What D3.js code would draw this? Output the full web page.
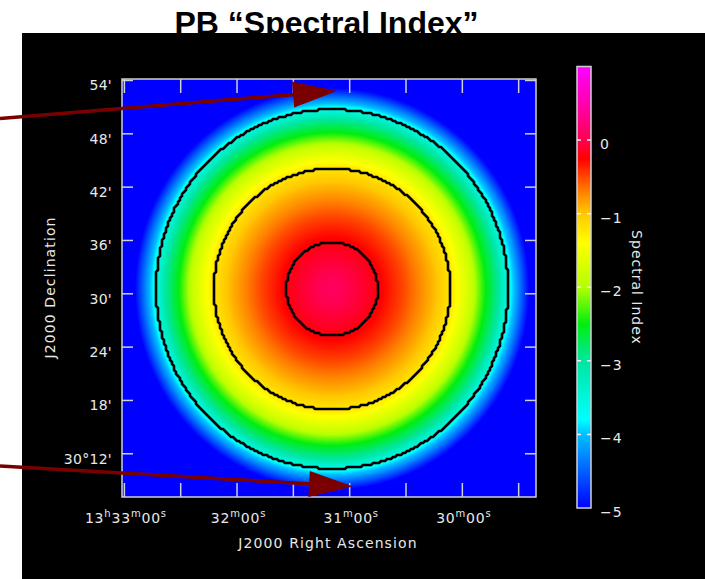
<!DOCTYPE html>
<html>
<head>
<meta charset="utf-8">
<script src="https://cdn.jsdelivr.net/npm/d3@7"></script>
<style>
  body { margin: 0; background: #fff; }
  svg { display: block; }
</style>
</head>
<body>
<div id="chart"></div>
<script>
// RA in seconds of time after 13h00m, Dec in arcmin after 30 deg
const raMajorTicks = [1980, 1920, 1860, 1800];
const raMinorTicks = [1950, 1890, 1830, 1770];
const raTickLabels = [
    [["13", 0], ["h", 1], ["33", 0], ["m", 1], ["00", 0], ["s", 1]],
    [["32", 0], ["m", 1], ["00", 0], ["s", 1]],
    [["31", 0], ["m", 1], ["00", 0], ["s", 1]],
    [["30", 0], ["m", 1], ["00", 0], ["s", 1]]
];
const decTicks = [54, 48, 42, 36, 30, 24, 18, 12];
const decTickLabels = ["54'", "48'", "42'", "36'", "30'", "24'", "18'", "30°12'"];

// radial profile of the PB spectral index (radius in arcmin)
const beamCenter = {ra: 1869.1, dec: 30.48};
const profileRadius = [0, 5.25, 8.2, 11.4, 13.55, 15.9, 17.6, 19.1, 20.2, 20.6, 21.4, 22.6];
const profileIndex = [0.1, -0.2, -0.5, -0.9, -1.2, -1.8, -2.5, -3.0, -3.6, -3.85, -4.3, -5.0];
const contourLevels = [-3.6, -1.2, -0.2];

// colour table
const colorStops = [-5, -4, -3.8, -3, -2.5, -2, -1.4, -1, -0.7, -0.25, 0, 0.5, 1];
const colorValues = ["#0000ff", "#00c0ff", "#00ffff", "#00e6a0", "#00ee10", "#b4ff00", "#ffff00",
                     "#ffc800", "#ff8000", "#ff0000", "#ff0050", "#ff00b0", "#ff00ff"];
const cbarTicks = [0, -1, -2, -3, -4, -5];

// the two annotation arrows
const arrows = [
    {x1: 0, y1: 118.5, x2: 337, y2: 91},
    {x1: 0, y1: 466, x2: 353, y2: 486.5}
];

class SpectralMap {
    constructor(_config) {
        this.config = {
            parentElement: _config.parentElement,
            containerWidth: 705,
            containerHeight: 579,
            margin: {top: 79, left: 122},
            width: 414,
            height: 418
        };
        this.initVis();
    }

    initVis() {
        let vis = this;
        const c = vis.config;

        vis.svg = d3.select(c.parentElement).append('svg')
            .attr('width', c.containerWidth)
            .attr('height', c.containerHeight);

        vis.svg.append('text')
            .attr('x', 326.5).attr('y', 33.5)
            .attr('text-anchor', 'middle')
            .attr('font-family', '"Liberation Sans", Arial, sans-serif')
            .attr('font-weight', 'bold')
            .attr('font-size', 32)
            .attr('fill', '#000')
            .text('PB \u201cSpectral Index\u201d');

        vis.svg.append('rect')
            .attr('x', 22).attr('y', 33)
            .attr('width', c.containerWidth - 22).attr('height', c.containerHeight - 33)
            .attr('fill', '#000');

        vis.chart = vis.svg.append('g')
            .attr('transform', `translate(${c.margin.left},${c.margin.top})`);

        vis.xScale = d3.scaleLinear().domain([1981, 1760.5]).range([0, c.width]);
        vis.yScale = d3.scaleLinear().domain([7.08, 54.11]).range([c.height, 0]);
        vis.profile = d3.scaleLinear().domain(profileRadius).range(profileIndex).clamp(true);
        vis.colorScale = d3.scaleLinear().domain(colorStops).range(colorValues).clamp(true);
        vis.cbarScale = d3.scaleLinear().domain([-5, 1]).range([508, 66.5]);

        vis.cosDec = Math.cos((30 + beamCenter.dec / 60) * Math.PI / 180);
        vis.renderVis();
    }

    valueAt(px, py) {
        let vis = this;
        const ra = vis.xScale.invert(px);
        const dec = vis.yScale.invert(py);
        const dx = (ra - beamCenter.ra) * 0.25 * vis.cosDec;
        const dy = dec - beamCenter.dec;
        return vis.profile(Math.hypot(dx, dy));
    }

    renderVis() {
        let vis = this;
        const w = vis.config.width, h = vis.config.height;
        const tickColor = '#cfcfd6';
        const labelFont = '"DejaVu Sans", sans-serif';

        // raster image
        const canvas = document.createElement('canvas');
        canvas.width = w; canvas.height = h;
        const ctx = canvas.getContext('2d');
        const img = ctx.createImageData(w, h);
        for (let j = 0; j < h; j++) {
            for (let i = 0; i < w; i++) {
                const col = d3.rgb(vis.colorScale(vis.valueAt(i + 0.5, j + 0.5)));
                const k = (j * w + i) * 4;
                img.data[k] = col.r; img.data[k + 1] = col.g; img.data[k + 2] = col.b; img.data[k + 3] = 255;
            }
        }
        ctx.putImageData(img, 0, 0);
        vis.chart.append('image')
            .attr('href', canvas.toDataURL())
            .attr('width', w).attr('height', h);

        // contours
        const cell = 2;
        const nx = Math.ceil(w / cell), ny = Math.ceil(h / cell);
        const grid = new Array(nx * ny);
        for (let j = 0; j < ny; j++)
            for (let i = 0; i < nx; i++)
                grid[j * nx + i] = vis.valueAt((i + 0.5) * cell, (j + 0.5) * cell);
        const contours = d3.contours().size([nx, ny]).smooth(false).thresholds(contourLevels)(grid);
        const path = d3.geoPath(d3.geoIdentity().scale(cell));
        vis.chart.selectAll('.contour')
            .data(contours)
            .join('path')
            .attr('class', 'contour')
            .attr('d', path)
            .attr('fill', 'none')
            .attr('stroke', '#000')
            .attr('stroke-width', 2.6);

        // axes (ticks point inward)
        const allRa = raMajorTicks.concat(raMinorTicks);
        const styleAxis = g => {
            g.select('.domain').remove();
            g.selectAll('.tick line').attr('stroke', tickColor).attr('stroke-width', 1.5);
            g.selectAll('.tick text').remove();
        };
        vis.chart.append('g').attr('transform', `translate(0,${h})`)
            .call(d3.axisBottom(vis.xScale).tickValues(allRa).tickSize(-14).tickSizeOuter(0)).call(styleAxis);
        vis.chart.append('g')
            .call(d3.axisTop(vis.xScale).tickValues(allRa).tickSize(-14).tickSizeOuter(0)).call(styleAxis);
        vis.chart.append('g')
            .call(d3.axisLeft(vis.yScale).tickValues(decTicks).tickSize(-11).tickSizeOuter(0)).call(styleAxis);
        vis.chart.append('g').attr('transform', `translate(${w},0)`)
            .call(d3.axisRight(vis.yScale).tickValues(decTicks).tickSize(-11).tickSizeOuter(0)).call(styleAxis);

        vis.chart.append('rect')
            .attr('width', w).attr('height', h)
            .attr('fill', 'none').attr('stroke', tickColor).attr('stroke-width', 1.5);

        // tick labels
        vis.chart.selectAll('.ylab')
            .data(decTicks)
            .join('text')
            .attr('class', 'ylab')
            .attr('x', -10).attr('y', d => vis.yScale(d) + 10.5)
            .attr('text-anchor', 'end')
            .attr('font-family', labelFont).attr('font-size', 14)
            .attr('letter-spacing', 0.3)
            .attr('fill', '#e8e8e8')
            .text((d, i) => decTickLabels[i]);

        const xl = vis.chart.selectAll('.xlab')
            .data(raMajorTicks)
            .join('text')
            .attr('class', 'xlab')
            .attr('x', d => vis.xScale(d) + 2).attr('y', h + 25.5)
            .attr('text-anchor', 'middle')
            .attr('font-family', labelFont)
            .attr('fill', '#e8e8e8');
        xl.each(function(d, i) {
            const t = d3.select(this);
            let up = false;
            raTickLabels[i].forEach(([s, sup]) => {
                const sp = t.append('tspan').text(s)
                    .attr('font-size', sup ? 10 : 14)
                    .attr('letter-spacing', 0.8);
                if (sup && !up) { sp.attr('dy', -6); up = true; }
                else if (!sup && up) { sp.attr('dy', 6); up = false; }
            });
        });

        vis.svg.append('text')
            .attr('x', 328).attr('y', 548)
            .attr('text-anchor', 'middle')
            .attr('font-family', labelFont).attr('font-size', 14)
            .attr('letter-spacing', 1.1)
            .attr('fill', '#e8e8e8')
            .text('J2000 Right Ascension');

        vis.svg.append('text')
            .attr('transform', 'translate(55,287.5) rotate(-90)')
            .attr('text-anchor', 'middle')
            .attr('font-family', labelFont).attr('font-size', 14)
            .attr('letter-spacing', 1.1)
            .attr('fill', '#e8e8e8')
            .text('J2000 Declination');

        // colour bar
        const cb = {x: 577, w: 14};
        const grad = vis.svg.append('defs').append('linearGradient')
            .attr('id', 'cbar')
            .attr('gradientUnits', 'userSpaceOnUse')
            .attr('x1', 0).attr('x2', 0)
            .attr('y1', vis.cbarScale(-5)).attr('y2', vis.cbarScale(1));
        grad.selectAll('stop')
            .data(colorStops)
            .join('stop')
            .attr('offset', d => (d + 5) / 6)
            .attr('stop-color', (d, i) => colorValues[i]);
        vis.svg.append('rect')
            .attr('x', cb.x).attr('y', vis.cbarScale(1))
            .attr('width', cb.w).attr('height', vis.cbarScale(-5) - vis.cbarScale(1))
            .attr('fill', 'url(#cbar)')
            .attr('stroke', tickColor).attr('stroke-width', 1.5);

        const ct = vis.svg.append('g');
        ct.selectAll('.cl')
            .data(cbarTicks.filter(d => d > -5))
            .join('path')
            .attr('class', 'cl')
            .attr('d', d => `M${cb.x},${vis.cbarScale(d)}h4M${cb.x + cb.w - 4},${vis.cbarScale(d)}h4`)
            .attr('stroke', '#f0f0f0').attr('stroke-width', 1.5);
        ct.selectAll('.clab')
            .data(cbarTicks)
            .join('text')
            .attr('class', 'clab')
            .attr('x', 600).attr('y', d => vis.cbarScale(d) + 9)
            .attr('font-family', labelFont).attr('font-size', 14)
            .attr('letter-spacing', 1)
            .attr('fill', '#e8e8e8')
            .text(d => d === 0 ? '0' : '\u2212' + Math.abs(d));

        vis.svg.append('text')
            .attr('transform', 'translate(632,287.5) rotate(90)')
            .attr('text-anchor', 'middle')
            .attr('font-family', labelFont).attr('font-size', 14)
            .attr('letter-spacing', 1)
            .attr('fill', '#e8e8e8')
            .text('Spectral Index');

        // arrows
        const headLen = 44, headHalf = 13;
        arrows.forEach(a => {
            const dx = a.x2 - a.x1, dy = a.y2 - a.y1;
            const len = Math.hypot(dx, dy);
            const ux = dx / len, uy = dy / len;
            const bx = a.x2 - ux * headLen, by = a.y2 - uy * headLen;
            vis.svg.append('line')
                .attr('x1', a.x1).attr('y1', a.y1)
                .attr('x2', bx + ux * 2).attr('y2', by + uy * 2)
                .attr('stroke', '#7a0000').attr('stroke-width', 3.5);
            vis.svg.append('path')
                .attr('d', `M${a.x2},${a.y2}L${bx - uy * headHalf},${by + ux * headHalf}L${bx + uy * headHalf},${by - ux * headHalf}Z`)
                .attr('fill', '#7a0000');
        });
    }
}

new SpectralMap({parentElement: '#chart'});
</script>
</body>
</html>
